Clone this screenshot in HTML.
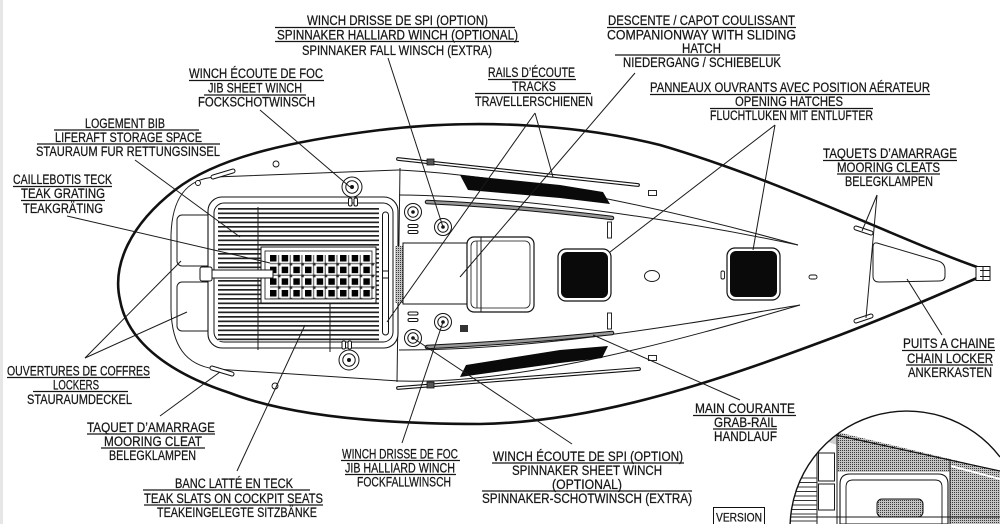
<!DOCTYPE html>
<html><head><meta charset="utf-8">
<style>
html,body{margin:0;padding:0;background:#fff;width:1000px;height:524px;overflow:hidden;}
svg{display:block;}
.t{font-family:"Liberation Sans",Arial,sans-serif;font-size:13.5px;fill:#161616;stroke:#161616;stroke-width:0.25;}
.u{stroke:#161616;stroke-width:1.2;}
.l{stroke:#1a1a1a;stroke-width:1;fill:none;}
.k{stroke:#1a1a1a;stroke-width:1;fill:none;}
</style></head><body>
<svg width="1000" height="524" viewBox="0 0 1000 524" xmlns="http://www.w3.org/2000/svg">
<defs>
<pattern id="slat" x="0" y="208" width="6" height="4.5" patternUnits="userSpaceOnUse"><rect width="6" height="4.5" fill="#fff"/><rect y="0" width="6" height="1.7" fill="#222"/></pattern>
<pattern id="chk" x="270" y="255" width="11.67" height="11.67" patternUnits="userSpaceOnUse"><rect width="11.67" height="11.67" fill="#fff"/><rect width="6.5" height="6.5" fill="#000"/><rect x="8" y="0" width="1.2" height="11.67" fill="#666"/><rect x="0" y="8" width="11.67" height="1.2" fill="#666"/><rect x="8" y="8" width="2.5" height="2.5" fill="#222"/></pattern>
<pattern id="dots" width="2" height="2" patternUnits="userSpaceOnUse"><rect width="2" height="2" fill="#c4c4c4"/><rect width="1" height="1" fill="#3a3a3a"/></pattern>
<clipPath id="cc"><path d="M790.1,524 A117,117 0 0 1 1000,457 L1000,524 Z"/></clipPath>
</defs>
<rect width="1000" height="524" fill="#fff"/>
<rect x="0" y="0" width="3" height="524" fill="#e6e6e6"/>

<!-- ===== HULL ===== -->
<path d="M977,267 C900,240 780,180 660,145 C580,125 480,118 380,130 C300,140 220,155 175,190 C130,225 112,265 120,300 C128,345 175,375 230,393 C290,416 380,424 480,424 C600,422 720,380 840,335 C900,312 950,290 977,278" fill="none" stroke="#111" stroke-width="2.6"/>
<!-- bow fitting -->
<rect x="976" y="266.5" width="14" height="14" fill="#fff" stroke="#111" stroke-width="1"/>
<line x1="980" y1="270.5" x2="990" y2="270.5" class="k"/>
<line x1="980" y1="276.5" x2="990" y2="276.5" class="k"/>
<line x1="983" y1="266.5" x2="983" y2="280.5" class="k"/>

<!-- deck inner lines -->
<path d="M399,170 L215,177 C185,179 172,200 171,235 L171,310 C172,345 185,365 215,369 L399,381" class="k"/>
<path d="M399,170 C520,176 680,212 798,245" class="k"/>
<path d="M399,195 C520,196 680,220 798,245" class="k"/>
<path d="M399,381 C520,385 680,340 800,305" class="k"/>
<path d="M399,350 C540,350 680,325 800,305" class="k"/>
<path d="M400,168 L397,382" class="k"/>

<!-- lockers -->
<rect x="177" y="215" width="36" height="51" rx="5" class="k"/>
<rect x="177" y="282" width="36" height="49" rx="5" class="k"/>

<!-- cockpit -->
<rect x="208" y="197" width="190" height="151" rx="14" fill="#fff" stroke="#111" stroke-width="1.1"/>
<rect x="214" y="203" width="179" height="139" rx="10" fill="none" stroke="#111" stroke-width="1"/>
<rect x="218" y="208" width="161" height="133" fill="url(#slat)"/>
<line x1="258" y1="207" x2="258" y2="350" class="k"/>
<line x1="330" y1="302" x2="330" y2="352" class="k"/>
<rect x="261" y="247" width="115" height="56" fill="#fff" stroke="#111" stroke-width="1"/>
<rect x="265" y="251" width="107" height="48" fill="none" stroke="#111" stroke-width="0.8"/>
<rect x="270" y="255" width="105" height="44" fill="url(#chk)"/>
<!-- tiller -->
<rect x="210" y="270" width="63" height="8" fill="#fff" stroke="#111" stroke-width="1"/>
<rect x="200" y="267" width="12" height="14" rx="2" fill="#fff" stroke="#111" stroke-width="1"/>
<!-- traveller slot -->
<rect x="382.5" y="212" width="6" height="123" rx="3" fill="#fff" stroke="#111" stroke-width="1"/>
<rect x="382.5" y="271" width="6" height="7" fill="#fff" stroke="#111" stroke-width="1"/>
<!-- companionway sill stipple -->
<rect x="395" y="246" width="10" height="57" fill="url(#dots)"/>

<!-- winches -->
<g fill="#fff" stroke="#111" stroke-width="1">
<rect x="348.5" y="198" width="3.5" height="8" rx="1.5"/><rect x="354" y="198" width="3.5" height="8" rx="1.5"/>
<rect x="342" y="341" width="3.5" height="8" rx="1.5"/><rect x="348" y="341" width="3.5" height="8" rx="1.5"/>
<circle cx="352" cy="187" r="10"/><circle cx="352" cy="187" r="6.2" fill="none"/>
<circle cx="349" cy="360" r="10"/><circle cx="349" cy="360" r="6.2" fill="none"/>
<circle cx="413" cy="212" r="8.5"/><circle cx="413" cy="212" r="5.2" fill="none"/>
<circle cx="443" cy="227" r="8.5"/><circle cx="443" cy="227" r="5.2" fill="none"/>
<circle cx="443" cy="322" r="8.5"/><circle cx="443" cy="322" r="5.2" fill="none"/>
<circle cx="413" cy="338" r="8.5"/><circle cx="413" cy="338" r="5.2" fill="none"/>
<rect x="408" y="224.5" width="10" height="3" rx="1.5"/><rect x="408" y="230.5" width="10" height="3" rx="1.5"/>
<rect x="408" y="312" width="10" height="3" rx="1.5"/><rect x="408" y="318.5" width="10" height="3" rx="1.5"/>
</g>
<g fill="#111">
<circle cx="352" cy="187" r="2"/><circle cx="349" cy="360" r="2"/>
<circle cx="413" cy="212" r="1.8"/><circle cx="443" cy="227" r="1.8"/>
<circle cx="443" cy="322" r="1.8"/><circle cx="413" cy="338" r="1.8"/>
</g>
<rect x="460" y="325" width="8" height="7" fill="#333"/>

<!-- companionway -->
<rect x="403" y="243" width="66" height="61" fill="#fff" stroke="#111" stroke-width="1"/>
<rect x="467" y="237" width="67" height="75" rx="7" fill="#fff" stroke="#111" stroke-width="1.2"/>
<rect x="471" y="241" width="59" height="67" rx="5" fill="none" stroke="#111" stroke-width="0.8"/>
<line x1="481" y1="237" x2="481" y2="312" class="k"/>
<line x1="477" y1="241" x2="477" y2="308" stroke="#111" stroke-width="0.8"/>

<!-- tracks / rods -->
<g stroke-linecap="round">
<line x1="398" y1="159" x2="638" y2="185" stroke="#111" stroke-width="3.8"/>
<line x1="398" y1="159" x2="638" y2="185" stroke="#fff" stroke-width="1.6"/>
<line x1="398" y1="388" x2="639" y2="369" stroke="#111" stroke-width="3.8"/>
<line x1="398" y1="388" x2="639" y2="369" stroke="#fff" stroke-width="1.6"/>
<path d="M427,202 Q513,206 612,218" fill="none" stroke="#111" stroke-width="4.5"/>
<path d="M427,202 Q513,206 612,218" fill="none" stroke="#999" stroke-width="2.5"/>
<path d="M427,347 Q513,343 612,333" fill="none" stroke="#111" stroke-width="4.5"/>
<path d="M427,347 Q513,343 612,333" fill="none" stroke="#999" stroke-width="2.5"/>
</g>
<rect x="427" y="159" width="7" height="6" fill="#555" stroke="#111" stroke-width="0.8"/>
<rect x="427" y="382" width="7" height="6" fill="#555" stroke="#111" stroke-width="0.8"/>

<!-- black stripes -->
<path d="M460,175 L560,185 L603,192 L610,204 L560,198 L468,190 Z" fill="#0a0a0a"/>
<path d="M466,365 L560,350 L608,346 L602,358 L560,363 L460,377 Z" fill="#0a0a0a"/>

<!-- hatches -->
<rect x="558" y="249" width="53" height="52" rx="8" fill="#fff" stroke="#111" stroke-width="1.2"/>
<rect x="561" y="252" width="47" height="46" rx="6" fill="#0a0a0a"/>
<rect x="727" y="248" width="53" height="52" rx="8" fill="#fff" stroke="#111" stroke-width="1.2"/>
<rect x="730" y="251" width="47" height="46" rx="6" fill="#0a0a0a"/>
<ellipse cx="652" cy="276" rx="7.5" ry="5.5" class="k"/>

<!-- small fittings -->
<g fill="#fff" stroke="#111" stroke-width="0.9">
<rect x="648.5" y="190.5" width="8" height="5"/>
<rect x="648.5" y="355.5" width="8" height="5"/>
<rect x="607.5" y="222" width="4" height="16"/>
<rect x="607.5" y="313" width="4" height="16"/>
<rect x="721" y="271" width="3.5" height="8" rx="1.5"/>
<rect x="809" y="275" width="8" height="4" rx="2"/>
<circle cx="198" cy="183" r="2.5"/>
<circle cx="276" cy="164" r="3"/>
<circle cx="275" cy="386" r="3"/>
</g>
<g stroke-linecap="round">
<line x1="213" y1="177" x2="233" y2="171" stroke="#111" stroke-width="5"/>
<line x1="213" y1="177" x2="233" y2="171" stroke="#fff" stroke-width="3"/>
<line x1="212" y1="368" x2="232" y2="374" stroke="#111" stroke-width="5"/>
<line x1="212" y1="368" x2="232" y2="374" stroke="#fff" stroke-width="3"/>
<line x1="856" y1="228" x2="871" y2="233" stroke="#111" stroke-width="5"/>
<line x1="856" y1="228" x2="871" y2="233" stroke="#fff" stroke-width="3"/>
<line x1="856" y1="321" x2="871" y2="316" stroke="#111" stroke-width="5"/>
<line x1="856" y1="321" x2="871" y2="316" stroke="#fff" stroke-width="3"/>
</g>
<!-- chain locker -->
<path d="M877,243 L938,261 Q945,263 945,270 L945,276 Q945,281 939,281 L879,282 Q873,282 873,276 L873,248 Q873,242 877,243 Z" class="k"/>

<!-- ===== LEADER LINES ===== -->
<g class="l">
<line x1="388" y1="58" x2="443" y2="227"/>
<line x1="260" y1="110" x2="350" y2="187"/>
<line x1="135" y1="160" x2="240" y2="237"/>
<line x1="67" y1="216" x2="270" y2="263"/>
<line x1="535" y1="113" x2="553" y2="177"/>
<line x1="535" y1="113" x2="387" y2="322"/>
<line x1="635" y1="73" x2="460" y2="277"/>
<line x1="775" y1="125" x2="610" y2="252"/>
<line x1="775" y1="125" x2="753" y2="250"/>
<line x1="877" y1="195" x2="862" y2="231"/>
<line x1="877" y1="195" x2="866" y2="318"/>
<line x1="942" y1="335" x2="907" y2="279"/>
<line x1="740" y1="400" x2="593" y2="335"/>
<line x1="572" y1="444" x2="413" y2="338"/>
<line x1="402" y1="443" x2="443" y2="322"/>
<line x1="237" y1="471" x2="305" y2="325"/>
<line x1="160" y1="416" x2="220" y2="372"/>
<line x1="85" y1="358" x2="181" y2="261"/>
<line x1="85" y1="358" x2="187" y2="312"/>
</g>

<!-- ===== INSET ===== -->
<g clip-path="url(#cc)">
<rect x="790" y="410" width="210" height="114" fill="#fff"/>
<polygon points="837,432 950,459 950,472 837,472" fill="url(#dots)"/>
<polygon points="950,459 1000,471 1000,524 950,524" fill="url(#dots)"/>
<line x1="951" y1="466" x2="1000" y2="479" stroke="#fff" stroke-width="2"/>
<polygon points="822,432 837,432 837,445 822,440" fill="#d0d0d0"/>
<line x1="822" y1="432" x2="1000" y2="471" stroke="#111" stroke-width="1.2"/>
<line x1="837" y1="432" x2="837" y2="524" class="k"/>
<line x1="817" y1="440" x2="817" y2="524" class="k"/>
<line x1="950" y1="459" x2="950" y2="524" class="k"/>
<rect x="818.5" y="453" width="16" height="28" class="k"/>
<rect x="818.5" y="484" width="16" height="26" class="k"/>
<g stroke="#333" stroke-width="1">
<line x1="790" y1="478" x2="817" y2="478"/><line x1="790" y1="482.5" x2="817" y2="482.5"/>
<line x1="790" y1="487" x2="817" y2="487"/><line x1="790" y1="491.5" x2="817" y2="491.5"/>
<line x1="790" y1="496" x2="817" y2="496"/><line x1="790" y1="500.5" x2="817" y2="500.5"/>
<line x1="790" y1="505" x2="817" y2="505"/><line x1="790" y1="509.5" x2="817" y2="509.5"/>
<line x1="790" y1="514" x2="817" y2="514"/><line x1="790" y1="521" x2="817" y2="521"/>
</g>
<path d="M840,524 V484 Q840,474 850,474 H938 Q948,474 948,484 V524 Z" fill="#fff" stroke="#111" stroke-width="1.1"/>
<path d="M846,524 V487 Q846,480 853,480 H935 Q942,480 942,487 V524" fill="none" stroke="#111" stroke-width="0.9"/>
<line x1="790" y1="517" x2="1000" y2="517" class="k"/>
<rect x="877" y="499" width="46" height="18" rx="5" fill="url(#dots)" stroke="#111" stroke-width="1"/>
</g>
<path d="M790.1,524 A117,117 0 0 1 1000,457" fill="none" stroke="#111" stroke-width="1.4"/>

<!-- VERSION -->
<path d="M713.5,524 V507.5 H764.5 V524" fill="#fff" stroke="#111" stroke-width="1"/>
<text class="t" x="716" y="521.5" textLength="46" lengthAdjust="spacingAndGlyphs" style="font-size:12px">VERSION</text>

<!-- ===== LABELS ===== -->
<!-- A -->
<text class="t" x="307" y="25" textLength="181" lengthAdjust="spacingAndGlyphs">WINCH DRISSE DE SPI (OPTION)</text>
<line class="u" x1="275" y1="27.5" x2="515" y2="27.5"/>
<text class="t" x="277" y="39.5" textLength="241" lengthAdjust="spacingAndGlyphs">SPINNAKER HALLIARD WINCH (OPTIONAL)</text>
<line class="u" x1="275" y1="41.5" x2="519" y2="41.5"/>
<text class="t" x="302" y="55" textLength="190" lengthAdjust="spacingAndGlyphs">SPINNAKER FALL WINSCH (EXTRA)</text>
<!-- B -->
<text class="t" x="189" y="78" textLength="134" lengthAdjust="spacingAndGlyphs">WINCH ÉCOUTE DE FOC</text>
<line class="u" x1="189" y1="80.5" x2="324" y2="80.5"/>
<text class="t" x="208" y="92.5" textLength="94" lengthAdjust="spacingAndGlyphs">JIB SHEET WINCH</text>
<line class="u" x1="204" y1="95" x2="306" y2="95"/>
<text class="t" x="198" y="106.5" textLength="117" lengthAdjust="spacingAndGlyphs">FOCKSCHOTWINSCH</text>
<!-- C -->
<text class="t" x="85" y="128" textLength="80" lengthAdjust="spacingAndGlyphs">LOGEMENT BIB</text>
<line class="u" x1="54" y1="130" x2="199" y2="130"/>
<text class="t" x="55" y="142" textLength="147" lengthAdjust="spacingAndGlyphs">LIFERAFT STORAGE SPACE</text>
<line class="u" x1="37" y1="144" x2="220" y2="144"/>
<text class="t" x="36" y="156" textLength="184" lengthAdjust="spacingAndGlyphs">STAURAUM FUR RETTUNGSINSEL</text>
<!-- D -->
<text class="t" x="13" y="184" textLength="99" lengthAdjust="spacingAndGlyphs">CAILLEBOTIS TECK</text>
<line class="u" x1="13" y1="186.5" x2="112" y2="186.5"/>
<text class="t" x="21" y="198" textLength="84" lengthAdjust="spacingAndGlyphs">TEAK GRATING</text>
<line class="u" x1="21" y1="200.5" x2="105" y2="200.5"/>
<text class="t" x="23" y="213" textLength="80" lengthAdjust="spacingAndGlyphs">TEAKGRÄTING</text>
<!-- E -->
<text class="t" x="608" y="25" textLength="187" lengthAdjust="spacingAndGlyphs">DESCENTE / CAPOT COULISSANT</text>
<line class="u" x1="607" y1="27.5" x2="796" y2="27.5"/>
<text class="t" x="607" y="39.5" textLength="189" lengthAdjust="spacingAndGlyphs">COMPANIONWAY WITH SLIDING</text>
<text class="t" x="682" y="53" textLength="39" lengthAdjust="spacingAndGlyphs">HATCH</text>
<line class="u" x1="615" y1="55" x2="780" y2="55"/>
<text class="t" x="623" y="67" textLength="158" lengthAdjust="spacingAndGlyphs">NIEDERGANG / SCHIEBELUK</text>
<!-- F -->
<text class="t" x="488" y="77" textLength="87" lengthAdjust="spacingAndGlyphs">RAILS D’ÉCOUTE</text>
<line class="u" x1="488" y1="79.5" x2="576" y2="79.5"/>
<text class="t" x="512" y="91" textLength="44" lengthAdjust="spacingAndGlyphs">TRACKS</text>
<line class="u" x1="475" y1="93.5" x2="591" y2="93.5"/>
<text class="t" x="475" y="106" textLength="118" lengthAdjust="spacingAndGlyphs">TRAVELLERSCHIENEN</text>
<!-- G -->
<text class="t" x="650" y="92" textLength="280" lengthAdjust="spacingAndGlyphs">PANNEAUX OUVRANTS AVEC POSITION AÉRATEUR</text>
<line class="u" x1="650" y1="94.5" x2="930" y2="94.5"/>
<text class="t" x="735" y="106" textLength="108" lengthAdjust="spacingAndGlyphs">OPENING HATCHES</text>
<line class="u" x1="710" y1="108.5" x2="873" y2="108.5"/>
<text class="t" x="710" y="120" textLength="163" lengthAdjust="spacingAndGlyphs">FLUCHTLUKEN MIT ENTLUFTER</text>
<!-- H -->
<text class="t" x="823" y="158" textLength="134" lengthAdjust="spacingAndGlyphs">TAQUETS D’AMARRAGE</text>
<line class="u" x1="823" y1="160.5" x2="957" y2="160.5"/>
<text class="t" x="837" y="172" textLength="103" lengthAdjust="spacingAndGlyphs">MOORING CLEATS</text>
<line class="u" x1="837" y1="174" x2="940" y2="174"/>
<text class="t" x="845" y="186" textLength="88" lengthAdjust="spacingAndGlyphs">BELEGKLAMPEN</text>
<!-- I -->
<text class="t" x="7" y="375.5" textLength="143" lengthAdjust="spacingAndGlyphs">OUVERTURES DE COFFRES</text>
<line class="u" x1="7" y1="377.5" x2="150" y2="377.5"/>
<text class="t" x="53" y="389.5" textLength="46" lengthAdjust="spacingAndGlyphs">LOCKERS</text>
<line class="u" x1="33" y1="391.5" x2="128" y2="391.5"/>
<text class="t" x="27" y="404" textLength="105" lengthAdjust="spacingAndGlyphs">STAURAUMDECKEL</text>
<!-- J -->
<text class="t" x="87" y="432" textLength="128" lengthAdjust="spacingAndGlyphs">TAQUET D’AMARRAGE</text>
<line class="u" x1="87" y1="434" x2="215" y2="434"/>
<text class="t" x="104" y="446" textLength="98" lengthAdjust="spacingAndGlyphs">MOORING CLEAT</text>
<line class="u" x1="101" y1="448" x2="205" y2="448"/>
<text class="t" x="109" y="460" textLength="87" lengthAdjust="spacingAndGlyphs">BELEGKLAMPEN</text>
<!-- K -->
<text class="t" x="175" y="488" textLength="118" lengthAdjust="spacingAndGlyphs">BANC LATTÉ EN TECK</text>
<line class="u" x1="143" y1="490" x2="310" y2="490"/>
<text class="t" x="144" y="503" textLength="179" lengthAdjust="spacingAndGlyphs">TEAK SLATS ON COCKPIT SEATS</text>
<line class="u" x1="144" y1="505" x2="323" y2="505"/>
<text class="t" x="157" y="517" textLength="160" lengthAdjust="spacingAndGlyphs">TEAKEINGELEGTE SITZBÄNKE</text>
<!-- L -->
<text class="t" x="342" y="458.5" textLength="116" lengthAdjust="spacingAndGlyphs">WINCH DRISSE DE FOC</text>
<line class="u" x1="341" y1="460.5" x2="460" y2="460.5"/>
<text class="t" x="345" y="472.5" textLength="110" lengthAdjust="spacingAndGlyphs">JIB HALLIARD WINCH</text>
<line class="u" x1="345" y1="474.5" x2="456" y2="474.5"/>
<text class="t" x="357" y="486.5" textLength="94" lengthAdjust="spacingAndGlyphs">FOCKFALLWINSCH</text>
<!-- M -->
<text class="t" x="493" y="461" textLength="190" lengthAdjust="spacingAndGlyphs">WINCH ÉCOUTE DE SPI (OPTION)</text>
<line class="u" x1="492" y1="463" x2="684" y2="463"/>
<text class="t" x="512" y="475" textLength="150" lengthAdjust="spacingAndGlyphs">SPINNAKER SHEET WINCH</text>
<text class="t" x="552" y="489" textLength="70" lengthAdjust="spacingAndGlyphs">(OPTIONAL)</text>
<line class="u" x1="482" y1="491" x2="692" y2="491"/>
<text class="t" x="482" y="503" textLength="210" lengthAdjust="spacingAndGlyphs">SPINNAKER-SCHOTWINSCH (EXTRA)</text>
<!-- N -->
<text class="t" x="695" y="413" textLength="100" lengthAdjust="spacingAndGlyphs">MAIN COURANTE</text>
<line class="u" x1="693" y1="415.5" x2="796" y2="415.5"/>
<text class="t" x="714" y="427" textLength="63" lengthAdjust="spacingAndGlyphs">GRAB-RAIL</text>
<line class="u" x1="713" y1="429" x2="777" y2="429"/>
<text class="t" x="714" y="441" textLength="63" lengthAdjust="spacingAndGlyphs">HANDLAUF</text>
<!-- O -->
<text class="t" x="903" y="348" textLength="92" lengthAdjust="spacingAndGlyphs">PUITS A CHAINE</text>
<line class="u" x1="902" y1="350.5" x2="995" y2="350.5"/>
<text class="t" x="907" y="363" textLength="86" lengthAdjust="spacingAndGlyphs">CHAIN LOCKER</text>
<line class="u" x1="906" y1="365" x2="993" y2="365"/>
<text class="t" x="908" y="377" textLength="84" lengthAdjust="spacingAndGlyphs">ANKERKASTEN</text>
</svg>
</body></html>
